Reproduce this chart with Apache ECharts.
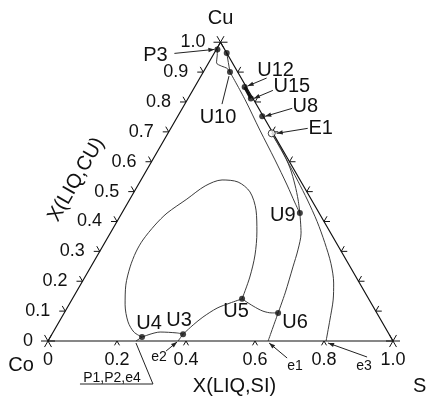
<!DOCTYPE html>
<html>
<head>
<meta charset="utf-8">
<title>Co–Cu–Si liquidus projection</title>
<script src="https://cdn.jsdelivr.net/npm/echarts@6/dist/echarts.min.js"></script>
<style>
html, body { margin: 0; padding: 0; background: #fff; }
#chart { width: 427px; height: 396px; }
</style>
</head>
<body>
<div id="chart"></div>
<script>
// Liquidus projection of the Co–Cu–Si system.
// Every composition is written as [x(Si), x(Cu)] (mole fractions).

// ---- axis ticks -------------------------------------------------------
const siTickValues  = [0.2, 0.4, 0.6, 0.8];
const siLabelValues = [0, 0.2, 0.4, 0.6, 0.8, 1.0];
const siLabels      = ['0', '0.2', '0.4', '0.6', '0.8', '1.0'];
const cuTickValues  = [0.1, 0.2, 0.3, 0.4, 0.5, 0.6, 0.7, 0.8, 0.9];
const cuLabelValues = [0, 0.1, 0.2, 0.3, 0.4, 0.5, 0.6, 0.7, 0.8, 0.9, 1.0];
const cuLabels      = ['0', '0.1', '0.2', '0.3', '0.4', '0.5', '0.6', '0.7', '0.8', '0.9', '1.0'];
const cuSiSideTicks = [0.1, 0.2, 0.3, 0.4, 0.5, 0.6, 0.7, 0.8, 0.9];   // x(Cu) along Cu–Si side

// ---- monovariant lines ------------------------------------------------
const lineP3U10  = [[0.003, 0.976], [0.012, 0.957], [0.023, 0.931], [0.043, 0.920], [0.062, 0.913], [0.0775, 0.900]];
const lineTopU10 = [[0.036, 0.964], [0.0775, 0.900]];
const lineU10U9  = [[0.0775, 0.900], [0.168, 0.807], [0.261, 0.706], [0.355, 0.606], [0.432, 0.522], [0.485, 0.462], [0.516, 0.428]];
const lineE1U9   = [[0.301, 0.695], [0.358, 0.639], [0.412, 0.579], [0.455, 0.522], [0.489, 0.472], [0.516, 0.428]];
const lineU9U6   = [[0.516, 0.428], [0.553, 0.361], [0.572, 0.305], [0.586, 0.248], [0.607, 0.161], [0.620, 0.094]];
const lineU6e1   = [[0.620, 0.094], [0.638, 0]];
const lineU5U6   = [[0.492, 0.141], [0.536, 0.117], [0.573, 0.100], [0.602, 0.094], [0.620, 0.094]];
const lineU3U5   = [[0.380, 0.023], [0.394, 0.054], [0.409, 0.080], [0.435, 0.110], [0.464, 0.127], [0.492, 0.141]];
const lineU3e2   = [[0.380, 0.023], [0.377, 0]];
const lineU4U3   = [[0.266, 0.013], [0.310, 0.030], [0.360, 0.027], [0.380, 0.023]];
const lineU4e4   = [[0.266, 0.013], [0.255, 0]];
const loopU4U5   = [[0.266, 0.013], [0.234, 0.030], [0.200, 0.064], [0.163, 0.121], [0.132, 0.187], [0.114, 0.248],
                    [0.106, 0.298], [0.106, 0.338], [0.116, 0.388], [0.131, 0.428], [0.165, 0.475], [0.196, 0.519],
                    [0.235, 0.539], [0.285, 0.532], [0.336, 0.499], [0.384, 0.438], [0.423, 0.365], [0.456, 0.288],
                    [0.478, 0.214], [0.492, 0.141]];
const lineE1e3   = [[0.301, 0.695], [0.385, 0.610], [0.457, 0.535], [0.516, 0.472], [0.580, 0.400], [0.637, 0.330],
                    [0.690, 0.260], [0.731, 0.194], [0.758, 0.137], [0.782, 0.070], [0.806, 0]];
const lineU12U15 = [[0.145, 0.850], [0.182, 0.812]];

// ---- invariant points -------------------------------------------------
const invNames = ['P3', 'U10', 'U12', 'U15', 'U8', 'E1', 'U9', 'U6', 'U5', 'U3', 'U4', 'e1', 'e2', 'e3', 'P1,P2,e4'];
const invSi    = [0.003, 0.0775, 0.145, 0.182, 0.245, 0.301, 0.516, 0.620, 0.492, 0.380, 0.266, 0.638, 0.377, 0.806, 0.255];
const invCu    = [0.976, 0.900, 0.850, 0.812, 0.752, 0.695, 0.428, 0.094, 0.141, 0.023, 0.013, 0, 0, 0, 0];
const dotNames = ['P3', 'U10', 'U12', 'U15', 'U8', 'U9', 'U6', 'U5', 'U3', 'U4'];
const extraDot = [[0.036, 0.964]];

// ---- geometry ---------------------------------------------------------
const S3 = Math.sqrt(3) / 2;
const toXY = p => [p[0] + p[1] / 2, p[1] * S3];
const W = 427, H = 396, ORIGIN_X = 48, ORIGIN_Y = 341, SIDE = 345;

const FONT = '"Liberation Sans", Arial, Helvetica, sans-serif';
const INK = '#111';
const CURVE = '#3c3c3c';

// label placement (pixel offsets from the marked composition)
const noteLayout = {
  'P3':       { text: [-62, 6],   lead: [[-43, 4], [-3, 0]],  arrow: true,  size: 20 },
  'U10':      { text: [-12, 45],  lead: [[-8, 32], [-1, 4]],  arrow: false, size: 20 },
  'U12':      { text: [31, -17],  lead: [[22, -9], [3, -1]],  arrow: true,  size: 20 },
  'U15':      { text: [41, -12],  lead: [[22, -8], [3, 0]],   arrow: true,  size: 20 },
  'U8':       { text: [43, -10],  lead: [[30, -8], [3, 0]],   arrow: true,  size: 20 },
  'E1':       { text: [49, -5],   lead: [[36, -5], [5, 0]],   arrow: true,  size: 20 },
  'U9':       { text: [-17, 2],   size: 20 },
  'U6':       { text: [17, 10],   size: 20 },
  'U5':       { text: [-6, 13],   size: 20 },
  'U3':       { text: [-4, -14],  size: 20 },
  'U4':       { text: [7, -14],   size: 20 },
  'e1':       { text: [27, 25],   lead: [[19, 17], [1, 2]],   arrow: true,  size: 14 },
  'e2':       { text: [-19, 16],  lead: [[-12, 10], [-1, 1]], arrow: true,  size: 14 },
  'e3':       { text: [38, 25],   lead: [[41, 16], [2, 2]],   arrow: true,  size: 14 },
  'P1,P2,e4': { text: [-24, 37],  lead: [[-56, 43], [17, 43], [0, 2]], arrow: false, size: 14 }
};

function segs(p, dirs, len) {
  return dirs.map(d => ({
    type: 'line',
    shape: { x1: p[0], y1: p[1], x2: p[0] + d[0] * len, y2: p[1] + d[1] * len },
    style: { stroke: INK, lineWidth: 1 }
  }));
}

function tickSeries(values, toComp, dirs, len) {
  return {
    type: 'custom', coordinateSystem: 'cartesian2d', silent: true, z: 4,
    data: values.map(v => toXY(toComp(v))),
    renderItem: (params, api) => {
      const p = api.coord([api.value(0), api.value(1)]);
      return { type: 'group', children: segs(p, dirs, len) };
    }
  };
}

function textSeries(values, texts, toComp, dx, dy, align, size) {
  return {
    type: 'custom', coordinateSystem: 'cartesian2d', silent: true, z: 5,
    data: values.map(v => toXY(toComp(v))),
    renderItem: (params, api) => {
      const p = api.coord([api.value(0), api.value(1)]);
      return {
        type: 'text', x: p[0] + dx, y: p[1] + dy,
        style: { text: texts[params.dataIndex], font: size + 'px ' + FONT, fill: INK,
                 align: align, verticalAlign: 'middle', textAlign: align, textVerticalAlign: 'middle' }
      };
    }
  };
}

function curve(pts, extra) {
  return Object.assign({
    type: 'line', data: pts.map(toXY), symbol: 'none', smooth: 0.3, silent: true, z: 3,
    lineStyle: { color: CURVE, width: 1 }
  }, extra || {});
}

function renderNote(params, api) {
  const name = invNames[params.dataIndex];
  const lay = noteLayout[name];
  const p = api.coord([api.value(0), api.value(1)]);
  const kids = [];
  if (lay.lead) {
    const pts = lay.lead.map(o => [p[0] + o[0], p[1] + o[1]]);
    kids.push({ type: 'polyline', shape: { points: pts }, style: { stroke: '#222', lineWidth: 1, fill: 'none' } });
    if (lay.arrow) {
      const a = pts[pts.length - 2], b = pts[pts.length - 1];
      const dx = b[0] - a[0], dy = b[1] - a[1], n = Math.hypot(dx, dy);
      const ux = dx / n, uy = dy / n, L = 6, w = 2.2;
      kids.push({ type: 'polygon', shape: { points: [
        [b[0], b[1]],
        [b[0] - ux * L - uy * w, b[1] - uy * L + ux * w],
        [b[0] - ux * L + uy * w, b[1] - uy * L - ux * w]] }, style: { fill: '#222' } });
    }
  }
  kids.push({
    type: 'text', x: p[0] + lay.text[0], y: p[1] + lay.text[1],
    style: { text: name, font: lay.size + 'px ' + FONT, fill: INK,
             align: 'center', verticalAlign: 'middle', textAlign: 'center', textVerticalAlign: 'middle' }
  });
  return { type: 'group', children: kids };
}

const corners = [[0, 0], [1, 0], [0, 1]];
const star = [[1, 0], [-1, 0], [0.5, 0.866], [-0.5, -0.866], [0.5, -0.866], [-0.5, 0.866]];

const chart = echarts.init(document.getElementById('chart'), null, { renderer: 'canvas' });
chart.setOption({
  animation: false,
  backgroundColor: '#fff',
  grid: { left: 0, right: 0, top: 0, bottom: 0 },
  xAxis: { type: 'value', min: -ORIGIN_X / SIDE, max: (W - ORIGIN_X) / SIDE, show: false },
  yAxis: { type: 'value', min: -(H - ORIGIN_Y) / SIDE, max: ORIGIN_Y / SIDE, show: false },
  series: [
    // triangle frame
    { type: 'line', data: [[0, 0], [1, 0], [0, 1], [0, 0]].map(toXY), symbol: 'none', silent: true, z: 4,
      lineStyle: { color: INK, width: 1.2 } },
    // corner marks
    { type: 'custom', coordinateSystem: 'cartesian2d', silent: true, z: 4,
      data: corners.map(toXY),
      renderItem: (params, api) => ({ type: 'group',
        children: segs(api.coord([api.value(0), api.value(1)]), star, 7) }) },
    // tick marks on the three sides
    tickSeries(siTickValues, v => [v, 0], [[-0.5, 0.866], [0.5, 0.866]], 5),
    tickSeries(cuTickValues, v => [0, v], [[-1, 0], [-0.5, -0.866]], 6),
    tickSeries(cuSiSideTicks, v => [1 - v, v], [[1, 0], [0.5, -0.866]], 6),
    // tick labels
    textSeries(siLabelValues, siLabels, v => [v, 0], 0, 19, 'center', 18),
    textSeries(cuLabelValues, cuLabels, v => [0, v], -15, 0, 'right', 18),
    // monovariant lines
    curve(lineP3U10), curve(lineTopU10), curve(lineU10U9), curve(lineE1U9), curve(lineU9U6),
    curve(lineU6e1), curve(lineU5U6), curve(lineU3U5), curve(lineU3e2), curve(lineU4U3),
    curve(lineU4e4), curve(loopU4U5), curve(lineE1e3),
    curve(lineU12U15, { lineStyle: { color: INK, width: 3 }, z: 5 }),
    // invariant points
    { type: 'scatter', silent: true, z: 6, symbol: 'circle', symbolSize: 6,
      itemStyle: { color: INK },
      data: dotNames.map(n => { const i = invNames.indexOf(n); return toXY([invSi[i], invCu[i]]); })
             .concat(extraDot.map(toXY)) },
    { type: 'scatter', silent: true, z: 6, symbol: 'circle', symbolSize: 7,
      itemStyle: { color: '#fff', borderColor: INK, borderWidth: 1 },
      data: [toXY([invSi[invNames.indexOf('E1')], invCu[invNames.indexOf('E1')]])] },
    // point labels with leader lines
    { type: 'custom', coordinateSystem: 'cartesian2d', silent: true, z: 7,
      data: invNames.map((n, i) => toXY([invSi[i], invCu[i]])),
      renderItem: renderNote },
    // component and axis titles
    { type: 'custom', coordinateSystem: 'cartesian2d', silent: true, z: 7,
      data: [toXY([0, 1]), toXY([0, 0]), toXY([1, 0]), toXY([0.5, 0]), toXY([0, 0.5])],
      renderItem: (params, api) => {
        const p = api.coord([api.value(0), api.value(1)]);
        const spec = [
          { t: 'Cu',        dx: 0,   dy: -24, a: 'center', r: 0 },
          { t: 'Co',        dx: -27, dy: 24,  a: 'center', r: 0 },
          { t: 'Si',        dx: 20,  dy: 45,  a: 'left',   r: 0 },
          { t: 'X(LIQ,SI)', dx: 14,  dy: 45,  a: 'center', r: 0 },
          { t: 'X(LIQ,CU)', dx: -58, dy: -12, a: 'center', r: Math.PI / 3 }
        ][params.dataIndex];
        return { type: 'text', x: p[0] + spec.dx, y: p[1] + spec.dy, rotation: spec.r,
          style: { text: spec.t, font: '20px ' + FONT, fill: INK, align: spec.a, verticalAlign: 'middle',
                   textAlign: spec.a, textVerticalAlign: 'middle' } };
      } }
  ]
});
</script>
</body>
</html>
